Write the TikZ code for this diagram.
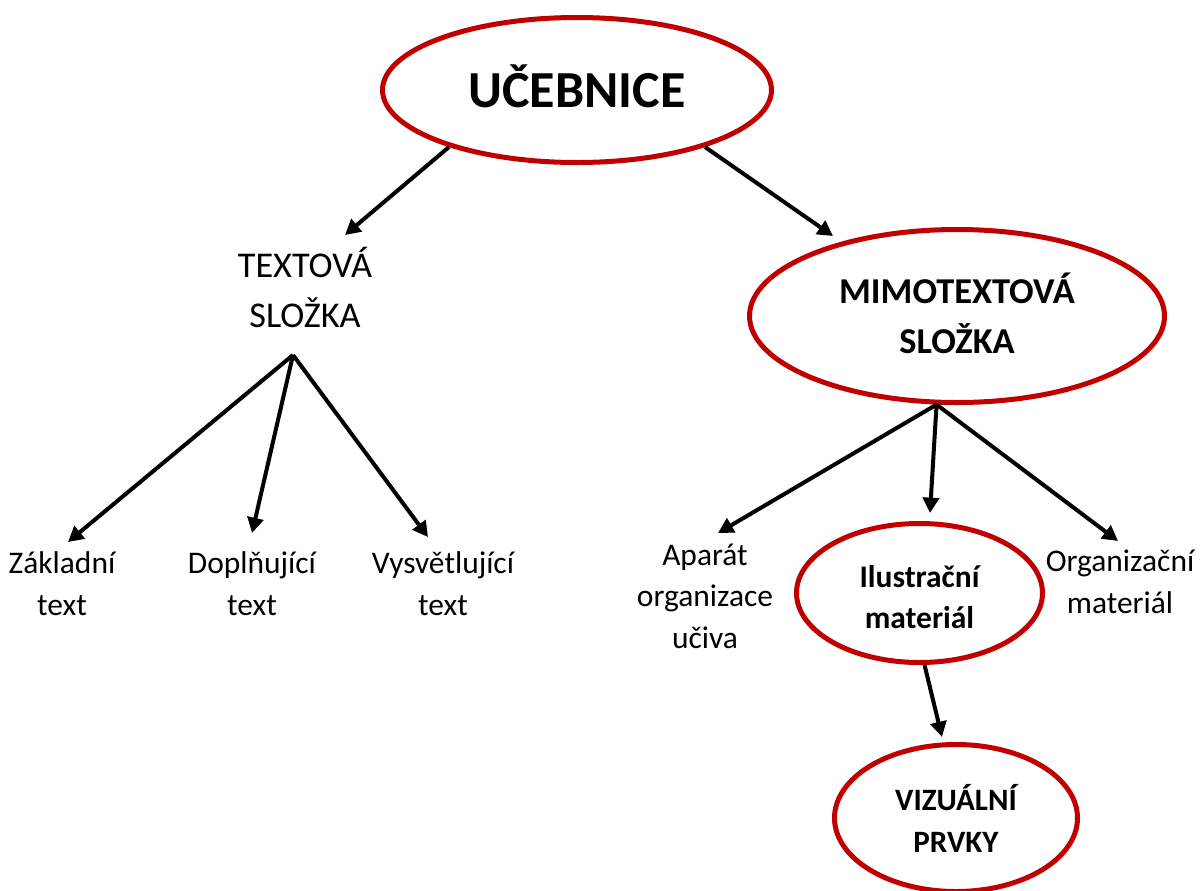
\documentclass[tikz,border=0pt]{standalone}
\usepackage{fontspec}
\setmainfont{Carlito}
\usetikzlibrary{arrows.meta,shapes.geometric}
\definecolor{ered}{HTML}{C00000}
\begin{document}
\begin{tikzpicture}[x=0.75pt,y=-0.75pt,
  oval/.style={draw=ered, line width=3.75pt, ellipse, inner sep=0pt},
  arr/.style={draw=black, line width=3pt, -{Triangle[length=11.5pt,width=12pt]}},
  lbl/.style={align=center, anchor=base, inner sep=0pt},
  normtxt/.style={lbl, font=\fontsize{23.6}{31.1}\selectfont},
  boldtxt/.style={lbl, font=\fontsize{23.6}{30.75}\bfseries\selectfont}]
\useasboundingbox[fill=white] (0,0) rectangle (1200,890);

% ellipses
\node[oval, minimum width={389*0.75pt}, minimum height={145*0.75pt}] (uceb) at (577,90) {};
\node[oval, minimum width={415*0.75pt}, minimum height={173*0.75pt}] (mimo) at (957,316) {};
\node[oval, minimum width={246*0.75pt}, minimum height={139*0.75pt}] (ilus) at (919.5,593) {};
\node[oval, minimum width={243*0.75pt}, minimum height={147*0.75pt}] (viz) at (956,818) {};

% texts (anchor = baseline of the last line)
\node[lbl, font=\fontsize{39}{47}\bfseries\selectfont] (tuceb) at (577,107) {UČEBNICE};
\node[lbl, font=\fontsize{27.2}{37.5}\selectfont] (text) at (305,327) {TEXTOVÁ\\SLOŽKA};
\node[lbl, font=\fontsize{27.3}{37.5}\bfseries\selectfont] (tmimo) at (957,353) {MIMOTEXTOVÁ\\SLOŽKA};
\node[normtxt] (zakl) at (62,615) {Základní\\text};
\node[normtxt] (dopl) at (252,615) {Doplňující\\text};
\node[normtxt] (vysv) at (443,615) {Vysvětlující\\text};
\node[normtxt] (apar) at (705,648) {Aparát\\organizace\\učiva};
\node[boldtxt] (tilus) at (919.5,628) {Ilustrační\\materiál};
\node[normtxt] (orga) at (1120,613) {Organizační\\materiál};
\node[lbl, font=\fontsize{23.3}{31.5}\bfseries\selectfont] (tviz) at (956,852) {VIZUÁLNÍ\\PRVKY};

% connector ends
\coordinate (src) at (293,355);
\coordinate (tT) at (345,235);
\coordinate (tM) at (833,236);
\coordinate (tZ) at (68,542);
\coordinate (tD) at (252,533);
\coordinate (tV) at (428,537);
\coordinate (tA) at (718,533);
\coordinate (tI) at (930,513);
\coordinate (tO) at (1118,541);
\coordinate (tP) at (942,737);

% connectors
\draw[arr] (uceb.204) -- (tT);
\draw[arr] (uceb.336.6) -- (tM);
\draw[arr] (src) -- (tZ);
\draw[arr] (src) -- (tD);
\draw[arr] (src) -- (tV);
\draw[arr] (mimo.257.5) -- (tA);
\draw[arr] (mimo.257.5) -- (tI);
\draw[arr] (mimo.257.5) -- (tO);
\draw[arr] (ilus.274.8) -- (tP);
\end{tikzpicture}
\end{document}
